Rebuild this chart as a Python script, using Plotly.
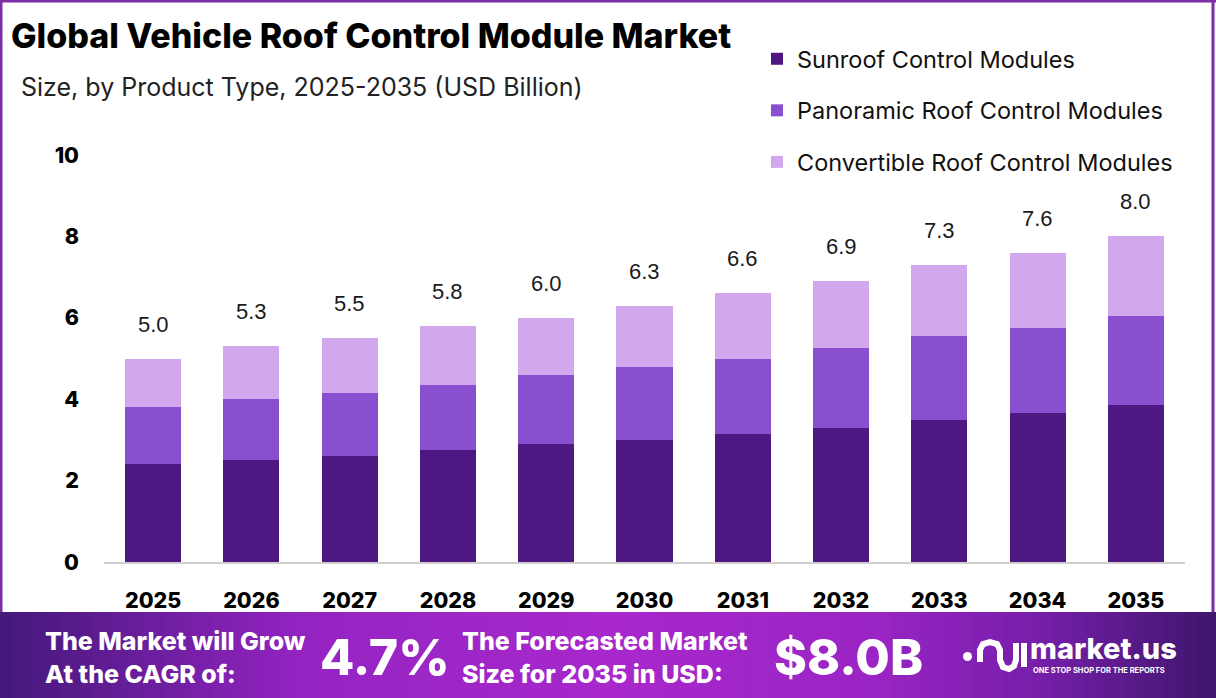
import plotly.graph_objects as go

# ---------------- data ----------------
years = ["2025", "2026", "2027", "2028", "2029", "2030", "2031", "2032", "2033", "2034", "2035"]
sunroof = [2.4, 2.5, 2.6, 2.75, 2.9, 3.0, 3.15, 3.3, 3.5, 3.65, 3.85]
panoramic = [1.4, 1.5, 1.55, 1.6, 1.7, 1.8, 1.85, 1.95, 2.05, 2.1, 2.2]
convertible = [1.2, 1.3, 1.35, 1.45, 1.4, 1.5, 1.6, 1.65, 1.75, 1.85, 1.95]
totals = [5.0, 5.3, 5.5, 5.8, 6.0, 6.3, 6.6, 6.9, 7.3, 7.6, 8.0]
series_names = ["Sunroof Control Modules", "Panoramic Roof Control Modules", "Convertible Roof Control Modules"]
y_ticks = [0, 2, 4, 6, 8, 10]
cagr_text = "4.7%"
forecast_text = "$8.0B"

# ---------------- layout geometry ----------------
W, H = 1216, 698
L, R, T, B = 104, 1185, 155, 562  # plot area in pixels


def px(xp):
    return (xp - L) / (R - L)


def py(yp):
    return (B - yp) / (B - T)


colors = ["#4f1782", "#8a4fcf", "#d2a8ec"]
FONT = "Inter"

fig = go.Figure()
for name, vals, col in zip(series_names, [sunroof, panoramic, convertible], colors):
    fig.add_trace(go.Bar(
        x=years, y=vals, name=name, marker=dict(color=col, line=dict(width=0)),
        legendgroup=name, hoverinfo="skip",
    ))

shapes = []
annotations = []

# total labels (category index positions)
for i, tot in enumerate(totals):
    annotations.append(dict(
        x=i, y=tot, xref="x", yref="y", text=f"{tot:.1f}", showarrow=False,
        yanchor="bottom", yshift=20,
        font=dict(family="Liberation Sans", size=22, color="#1a1a1a"),
    ))

# title / subtitle
annotations.append(dict(
    x=px(9), y=py(35), xref="paper", yref="paper", xanchor="left", yanchor="middle",
    text="Global Vehicle Roof Control Module Market", showarrow=False,
    font=dict(family=FONT, size=34, color="#000000", weight=800),
))
annotations.append(dict(
    x=px(19), y=py(87), xref="paper", yref="paper", xanchor="left", yanchor="middle",
    text="Size, by Product Type, 2025-2035 (USD Billion)", showarrow=False,
    font=dict(family=FONT, size=25, color="#222222"),
))

# banner gradient
stops = [(0.0, (0x44, 0x18, 0x7a)), (0.25, (0x94, 0x24, 0xc2)), (0.5, (0xa8, 0x28, 0xcc)),
         (0.72, (0x9a, 0x24, 0xc4)), (0.86, (0x74, 0x1e, 0xa8)), (1.0, (0x3e, 0x16, 0x6c))]


def grad(t):
    for (t0, c0), (t1, c1) in zip(stops[:-1], stops[1:]):
        if t0 <= t <= t1:
            f = (t - t0) / (t1 - t0)
            return "rgb(%d,%d,%d)" % tuple(round(a + (b - a) * f) for a, b in zip(c0, c1))
    return "rgb(62,22,108)"


N = 120
for i in range(N):
    x0 = W * i / N
    x1 = W * (i + 1) / N + 1
    shapes.append(dict(type="rect", xref="paper", yref="paper", x0=px(x0), x1=px(x1),
                       y0=py(612), y1=py(H + 2), fillcolor=grad((i + 0.5) / N),
                       line=dict(width=0), layer="below"))

# purple frame
border = "#7b2fa6"
shapes.append(dict(type="line", xref="paper", yref="paper", x0=px(0), x1=px(W), y0=py(1), y1=py(1),
                   line=dict(color=border, width=3)))
shapes.append(dict(type="line", xref="paper", yref="paper", x0=px(1), x1=px(1), y0=py(0), y1=py(612),
                   line=dict(color=border, width=3)))
shapes.append(dict(type="line", xref="paper", yref="paper", x0=px(1213), x1=px(1213), y0=py(0), y1=py(612),
                   line=dict(color=border, width=3)))

# banner texts
annotations.append(dict(
    x=px(43), y=py(657), xref="paper", yref="paper", xanchor="left", yanchor="middle",
    text="The Market will Grow<br>At the CAGR of:", align="left", showarrow=False,
    font=dict(family=FONT, size=25, color="white", weight=800),
))
annotations.append(dict(
    x=px(318), y=py(657), xref="paper", yref="paper", xanchor="left", yanchor="middle",
    text=cagr_text, showarrow=False,
    font=dict(family=FONT, size=50, color="white", weight=800),
))
annotations.append(dict(
    x=px(460), y=py(657), xref="paper", yref="paper", xanchor="left", yanchor="middle",
    text="The Forecasted Market<br>Size for 2035 in USD:", align="left", showarrow=False,
    font=dict(family=FONT, size=25, color="white", weight=800),
))
annotations.append(dict(
    x=px(772), y=py(657), xref="paper", yref="paper", xanchor="left", yanchor="middle",
    text=forecast_text, showarrow=False,
    font=dict(family=FONT, size=50, color="white", weight=800),
))
# logo
annotations.append(dict(
    x=px(1028), y=py(648), xref="paper", yref="paper", xanchor="left", yanchor="middle",
    text="market.us", showarrow=False,
    font=dict(family=FONT, size=29, color="white", weight=800),
))
annotations.append(dict(
    x=px(1031), y=py(670), xref="paper", yref="paper", xanchor="left", yanchor="middle",
    text="ONE STOP SHOP FOR THE REPORTS", showarrow=False,
    font=dict(family=FONT, size=7.5, color="white", weight=700),
))


def pth(points):
    return "M " + " L ".join(f"{px(a):.5f},{py(b):.5f}" for a, b in points)


shapes.append(dict(type="circle", xref="paper", yref="paper", x0=px(963), x1=px(972), y0=py(661), y1=py(652),
                   fillcolor="white", line=dict(width=0)))
shapes.append(dict(type="path", xref="paper", yref="paper",
                   path=pth([(980, 662), (980, 650), (983, 644), (990, 642), (997, 644), (1000, 650),
                             (1000, 660), (1003, 667), (1009, 669), (1014, 666), (1016, 660), (1016, 643)]),
                   line=dict(color="white", width=6)))
shapes.append(dict(type="line", xref="paper", yref="paper", x0=px(1024), x1=px(1024), y0=py(643), y1=py(667),
                   line=dict(color="white", width=6)))

fig.update_layout(
    width=W, height=H,
    margin=dict(l=L, r=W - R, t=T, b=H - B, pad=0),
    paper_bgcolor="white", plot_bgcolor="white",
    barmode="stack", bargap=0.43,
    showlegend=True,
    legend=dict(
        x=px(757), y=py(37), xanchor="left", yanchor="top", xref="paper", yref="paper",
        traceorder="grouped", tracegroupgap=18, bgcolor="rgba(0,0,0,0)",
        font=dict(family=FONT, size=23.5, color="#111111"), itemwidth=30,
    ),
    xaxis=dict(
        type="category",
        showgrid=False, showline=True, linecolor="#cfcfcf", linewidth=2, ticks="",
        tickfont=dict(family=FONT, size=21.5, color="#000000", weight=800),
        ticklabelstandoff=18, range=[-0.5, 10.5], fixedrange=True,
    ),
    yaxis=dict(
        range=[0, 10], tickvals=y_ticks, showgrid=False, zeroline=False, showline=False, ticks="",
        tickfont=dict(family=FONT, size=21.5, color="#000000", weight=800),
        ticklabelstandoff=24,
    ),
    shapes=shapes,
    annotations=annotations,
)

fig.write_html("out.html")
